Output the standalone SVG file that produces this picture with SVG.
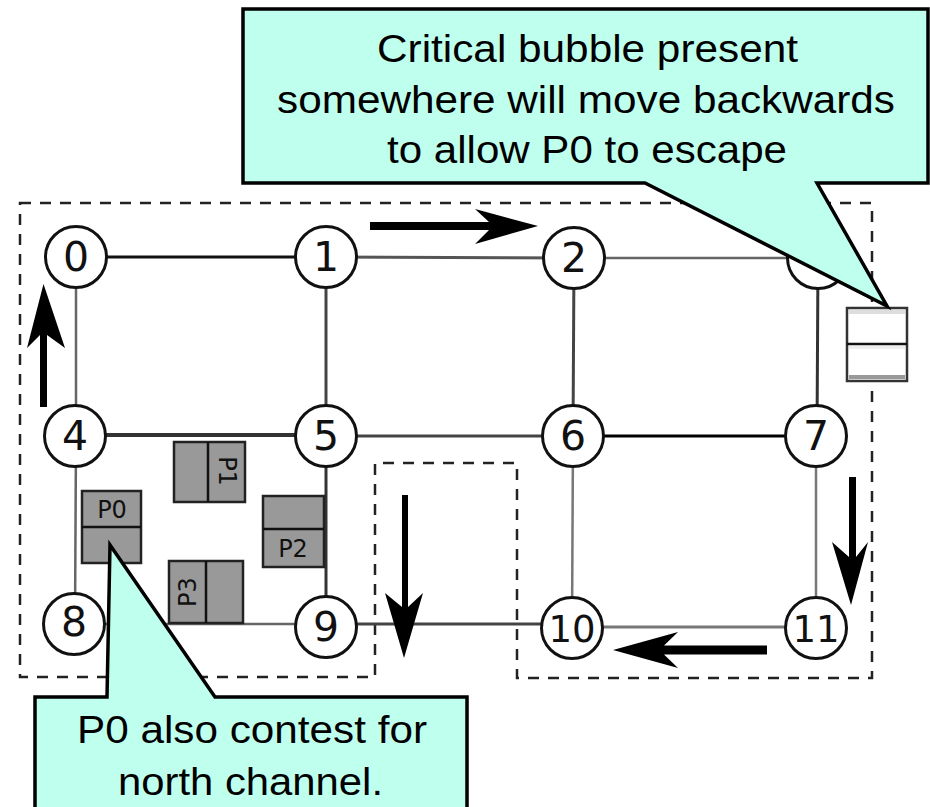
<svg xmlns="http://www.w3.org/2000/svg" width="930" height="807" viewBox="0 0 930 807">
<style>
.edge{stroke-width:3;fill:none}
.k{stroke:#111}
.d{stroke:#333}
.m{stroke:#444}
.g{stroke:#666;stroke-width:2.5}
.l{stroke:#777;stroke-width:2.5}
.node circle{fill:#fff;stroke:#111;stroke-width:3}
.node text{font-family:"DejaVu Sans",sans-serif;font-size:41px;text-anchor:middle;fill:#111}
.node text.dd{font-size:37px}
.pbox rect{fill:#999;stroke:#222;stroke-width:2.5}
.pbox line{stroke:#111;stroke-width:2.5}
.pbox text{font-family:"DejaVu Sans",sans-serif;font-size:24px;text-anchor:middle;fill:#111}
.arrow{fill:#000}
.callout path{fill:#bfffee;stroke:#000;stroke-width:3.5;stroke-linejoin:miter}
.callout text{font-family:"Liberation Sans",Arial,sans-serif;font-size:38px;text-anchor:middle;fill:#000}
</style>

<path id="region" d="M20,203 H872 V678 H517 V463 H375 V677 H20 Z" fill="none" stroke="#222" stroke-width="2.5" stroke-dasharray="11 9"/>

<g id="connectors">
  <line class="edge k" x1="76" y1="257" x2="326" y2="257"/>
  <line class="edge m" x1="326" y1="257" x2="574" y2="258" style="stroke:#555"/>
  <line class="edge g" x1="574" y1="258" x2="818" y2="258"/>
  <line class="edge g" x1="76" y1="257" x2="76" y2="436"/>
  <line class="edge m" x1="326" y1="257" x2="326" y2="436"/>
  <line class="edge m" x1="574" y1="258" x2="573" y2="436"/>
  <line class="edge d" x1="818" y1="258" x2="817" y2="436"/>
  <line class="edge d" x1="76" y1="435" x2="326" y2="435" style="stroke-width:4"/>
  <line class="edge m" x1="326" y1="436" x2="573" y2="436"/>
  <line class="edge k" x1="573" y1="436" x2="816" y2="436" style="stroke:#000"/>
  <line class="edge g" x1="76" y1="436" x2="75" y2="624"/>
  <line class="edge d" x1="326" y1="436" x2="326" y2="627"/>
  <line class="edge l" x1="573" y1="436" x2="572" y2="628"/>
  <line class="edge l" x1="816" y1="436" x2="816" y2="628"/>
  <line class="edge g" x1="75" y1="624" x2="326" y2="624"/>
  <line class="edge m" x1="326" y1="624" x2="572" y2="624"/>
  <line class="edge l" x1="572" y1="627" x2="816" y2="627" style="stroke-width:3"/>
</g>

<g id="n0" class="node"><circle cx="76" cy="257" r="30.5"/><text x="76" y="271">0</text></g>
<g id="n1" class="node"><circle cx="326" cy="257" r="30.5"/><text x="326" y="271">1</text></g>
<g id="n2" class="node"><circle cx="574" cy="258" r="30.5"/><text x="574" y="272">2</text></g>
<g id="n3" class="node"><circle cx="818" cy="258" r="30.5"/></g>
<g id="n4" class="node"><circle cx="75" cy="436" r="30.5"/><text x="75" y="450">4</text></g>
<g id="n5" class="node"><circle cx="326" cy="436" r="30.5"/><text x="326" y="450">5</text></g>
<g id="n6" class="node"><circle cx="573" cy="436" r="30.5"/><text x="573" y="450">6</text></g>
<g id="n7" class="node"><circle cx="816" cy="436" r="30.5"/><text x="816" y="450">7</text></g>
<g id="n8" class="node"><circle cx="74" cy="624" r="30.5"/><text x="74" y="636">8</text></g>
<g id="n9" class="node"><circle cx="326" cy="627" r="30.5"/><text x="326" y="641">9</text></g>
<g id="n10" class="node"><circle cx="572" cy="628" r="30.5"/><text class="dd" x="572" y="642">10</text></g>
<g id="n11" class="node"><circle cx="816" cy="628" r="30.5"/><text class="dd" x="816" y="642">11</text></g>

<g id="p0" class="pbox">
  <rect x="82" y="491" width="59" height="72"/>
  <line x1="82" y1="527" x2="141" y2="527"/>
  <text x="112" y="518">P0</text>
</g>
<g id="p1" class="pbox">
  <rect x="174" y="442" width="71" height="60"/>
  <line x1="208" y1="442" x2="208" y2="502"/>
  <text transform="translate(219,471) rotate(90)" x="0" y="0">P1</text>
</g>
<g id="p2" class="pbox">
  <rect x="263" y="496" width="61" height="71"/>
  <line x1="263" y1="529" x2="324" y2="529"/>
  <text x="293" y="557">P2</text>
</g>
<g id="p3" class="pbox">
  <rect x="169" y="561" width="74" height="62"/>
  <line x1="206" y1="561" x2="206" y2="623"/>
  <text transform="translate(196,592) rotate(-90)" x="0" y="0">P3</text>
</g>

<g id="bubble">
  <rect x="847" y="308" width="60" height="73" fill="#fff" stroke="#333" stroke-width="2.5"/>
  <rect x="849" y="310" width="56" height="4" fill="#ddd"/>
  <rect x="849" y="346" width="56" height="3" fill="#eee"/>
  <rect x="849" y="375" width="56" height="4" fill="#999"/>
  <line x1="847" y1="344" x2="907" y2="344" stroke="#111" stroke-width="2.5"/>
</g>

<g id="arrows">
  <path class="arrow" d="M40,407 V335 L27,348 L43.5,284 L65,348 L47,335 V407 Z"/>
  <path class="arrow" d="M370,222 H489 L475,209 L538,226 L475,244 L489,230 H370 Z"/>
  <path class="arrow" d="M402,495 H408 V607 L423,593 L404,658 L385,593 L402,607 Z"/>
  <path class="arrow" d="M849,477 H856 V557 L868,542 L851,605 L832,542 L849,557 Z"/>
  <path class="arrow" d="M767,645.5 V654.5 H664 L678,668 L613,650 L678,632 L664,645.5 Z"/>
</g>

<g id="callout-top" class="callout">
  <path d="M243,9 H928 V183 H817 L887,306 L645,183 H243 Z"/>
  <text x="587.5" y="62" textLength="421" lengthAdjust="spacingAndGlyphs">Critical bubble present</text>
  <text x="586" y="113" textLength="618" lengthAdjust="spacingAndGlyphs">somewhere will move backwards</text>
  <text x="587" y="163" textLength="400" lengthAdjust="spacingAndGlyphs">to allow P0 to escape</text>
</g>

<g id="callout-bottom" class="callout">
  <path d="M35,812 V697 H107 L110,545 L215,697 H467 V812 Z"/>
  <text x="252" y="743" textLength="350" lengthAdjust="spacingAndGlyphs">P0 also contest for</text>
  <text x="250.5" y="795" textLength="265" lengthAdjust="spacingAndGlyphs">north channel.</text>
</g>
</svg>
